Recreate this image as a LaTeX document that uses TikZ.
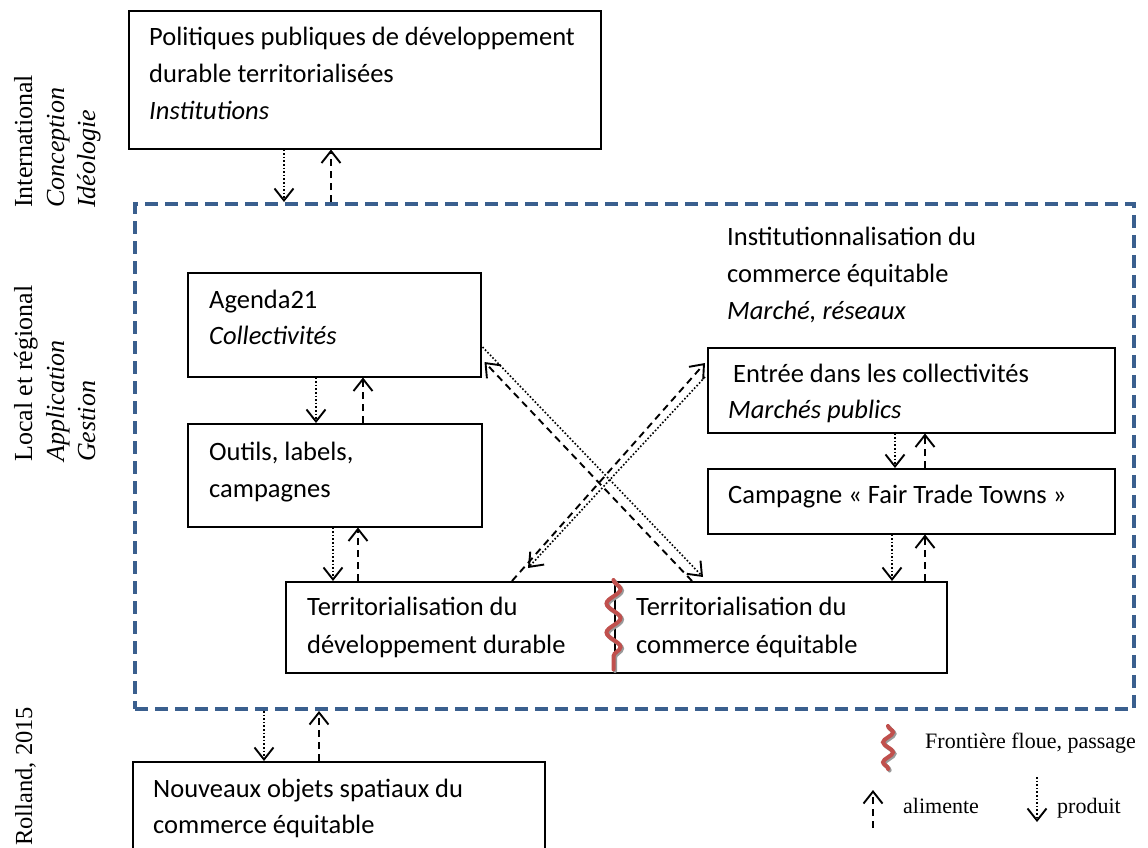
\documentclass[tikz,border=0pt]{standalone}
\usepackage{fontspec}
\setmainfont{Carlito}
\newfontfamily\serifL{Liberation Serif}
\usetikzlibrary{arrows.meta,decorations.pathmorphing,calc}
\definecolor{frameblue}{HTML}{3A5F8E}
\definecolor{wavered}{HTML}{C0504D}
\definecolor{waveshadow}{HTML}{9A9A9A}
\tikzset{
  box/.style={draw, line width=1.5pt, rectangle, inner sep=0pt, anchor=north west},
  framebox/.style={draw=frameblue, line width=4pt, dash pattern=on 13pt off 7pt, rectangle, inner sep=0pt, anchor=north west},
  txt/.style={anchor=base west, inner sep=0pt, font=\fontsize{26.5}{32}\selectfont},
  itxt/.style={txt, font=\fontsize{26.5}{32}\selectfont\itshape},
  side/.style={anchor=base west, inner sep=0pt, rotate=90, font=\serifL\fontsize{26}{30}\selectfont},
  iside/.style={side, font=\serifL\fontsize{26}{30}\selectfont\itshape},
  legtxt/.style={anchor=base west, inner sep=0pt, font=\serifL\fontsize{22}{26}\selectfont},
  tipb/.tip={Straight Barb[length=12pt,width=19pt,line width=1.9pt]},
  prod/.style={line width=1.6pt, dash pattern=on 1.6pt off 2pt, -tipb},
  feed/.style={line width=1.9pt, dash pattern=on 7pt off 5pt, -tipb},
  wave/.style={draw=wavered, line width=4pt, line cap=round, decorate,
    decoration={snake, segment length=29pt, amplitude=7pt}},
  waveshad/.style={draw=waveshadow, line width=4pt, line cap=round, decorate,
    decoration={snake, segment length=29pt, amplitude=7pt}},
}
\begin{document}
\begin{tikzpicture}[x=1pt,y=-1pt]
\clip (0,0) rectangle (1148,847);
\fill[white] (0,0) rectangle (1148,847);

% side labels
\node[side]  (intl) at (32,208) {International};
\node[iside] (conc) at (64,208) {Conception};
\node[iside] (ideo) at (95,208) {Idéologie};
\node[side]  (loc)  at (32,462) {Local et régional};
\node[iside] (appl) at (64,462) {Application};
\node[iside] (gest) at (95,462) {Gestion};
\node[anchor=base west, inner sep=0pt, rotate=90, font=\serifL\fontsize{24.5}{28}\selectfont] (roll) at (32,846) {Rolland, 2015};

% frame
\node[framebox, minimum width=999pt, minimum height=505pt] (frame) at (133,202) {};

% boxes
\node[box, minimum width=472pt, minimum height=138pt] (pol) at (128,10) {};
\node[box, minimum width=293pt, minimum height=104pt] (agenda) at (187,272) {};
\node[box, minimum width=294pt, minimum height=103pt] (outils) at (187,423) {};
\node[box, minimum width=407pt, minimum height=85pt] (entree) at (707,347) {};
\node[box, minimum width=407pt, minimum height=65pt] (camp) at (707,468) {};
\node[box, minimum width=329pt, minimum height=91pt] (terrdd) at (285,581) {};
\node[box, minimum width=332pt, minimum height=91pt] (terrce) at (614,581) {};
\node[box, minimum width=412pt, minimum height=110pt] (nouv) at (132,761) {};

% texts
\node[txt]  (t1a) at (149,45) {Politiques publiques de développement};
\node[txt]  (t1b) at (149,82) {durable territorialisées};
\node[itxt] (t1c) at (149,119) {Institutions};

\node[txt]  (t2a) at (727,245) {Institutionnalisation du};
\node[txt]  (t2b) at (727,282) {commerce équitable};
\node[itxt] (t2c) at (727,319) {Marché, réseaux};

\node[txt]  (t3a) at (209,308) {Agenda21};
\node[itxt] (t3b) at (209,344) {Collectivités};

\node[txt]  (t4a) at (209,460) {Outils, labels,};
\node[txt]  (t4b) at (209,497) {campagnes};

\node[txt]  (t5a) at (733,382) {Entrée dans les collectivités};
\node[itxt] (t5b) at (728,418) {Marchés publics};

\node[txt]  (t6a) at (728,503) {Campagne « Fair Trade Towns »};

\node[txt]  (t7a) at (307,615) {Territorialisation du};
\node[txt]  (t7b) at (307,653) {développement durable};
\node[txt]  (t8a) at (636,615) {Territorialisation du};
\node[txt]  (t8b) at (636,653) {commerce équitable};

\node[txt]  (t9a) at (153,797) {Nouveaux objets spatiaux du};
\node[txt]  (t9b) at (153,833) {commerce équitable};

% vertical connectors
\draw[prod] (pol.south -| 284,0) -- (frame.north -| 284,0);
\draw[feed] (frame.north -| 331,0) -- (pol.south -| 331,0);
\draw[prod] (agenda.south -| 316,0) -- (outils.north -| 316,0);
\draw[feed] (outils.north -| 363,0) -- (agenda.south -| 363,0);
\draw[prod] (outils.south -| 333,0) -- (terrdd.north -| 333,0);
\draw[feed] (terrdd.north -| 358,0) -- (outils.south -| 358,0);
\draw[prod] (entree.south -| 895,0) -- (camp.north -| 895,0);
\draw[feed] (camp.north -| 925,0) -- (entree.south -| 925,0);
\draw[prod] (camp.south -| 892,0) -- (terrce.north -| 892,0);
\draw[feed] (terrce.north -| 925,0) -- (camp.south -| 925,0);
\draw[prod] (frame.south -| 264,0) -- (nouv.north -| 264,0);
\draw[feed] (nouv.north -| 319,0) -- (frame.south -| 319,0);

% diagonal connectors
\draw[prod] ($(agenda.north east)+(1,75)$) -- ($(terrce.north west)+(89,-4)$);
\draw[feed] ($(terrce.north west)+(78,0)$) -- ($(agenda.north east)+(3,90)$);
\draw[prod] ($(entree.north west)+(-2,30)$) -- ($(terrdd.north west)+(243,-13)$);
\draw[feed] ($(terrdd.north west)+(227,0)$) -- ($(entree.north west)+(-2,16)$);

% fuzzy border
\draw[waveshad] ($(terrdd.north east)+(-0.5,0.5)$) -- ($(terrdd.south east)+(-0.5,-2.5)$);
\draw[wave] ($(terrdd.north east)+(-2,-1)$) -- ($(terrdd.south east)+(-2,-4)$);

% legend
\coordinate (lw1) at (888,726);
\coordinate (lw2) at (888,769);
\draw[draw=waveshadow, line width=4pt, line cap=round, decorate, decoration={snake, segment length=20pt, amplitude=5pt}] ($(lw1)+(1.5,1.5)$) -- ($(lw2)+(1.5,1.5)$);
\draw[draw=wavered, line width=4pt, line cap=round, decorate, decoration={snake, segment length=20pt, amplitude=5pt}] (lw1) -- (lw2);
\node[legtxt] (lg1) at (925,748) {Frontière floue, passage};
\coordinate (la1) at (873,828);
\coordinate (la2) at (873,790);
\draw[feed] (la1) -- (la2);
\node[legtxt] (lg2) at (903,813) {alimente};
\coordinate (lp1) at (1037,777);
\coordinate (lp2) at (1037,822);
\draw[prod] (lp1) -- (lp2);
\node[legtxt] (lg3) at (1057,813) {produit};
\end{tikzpicture}
\end{document}
